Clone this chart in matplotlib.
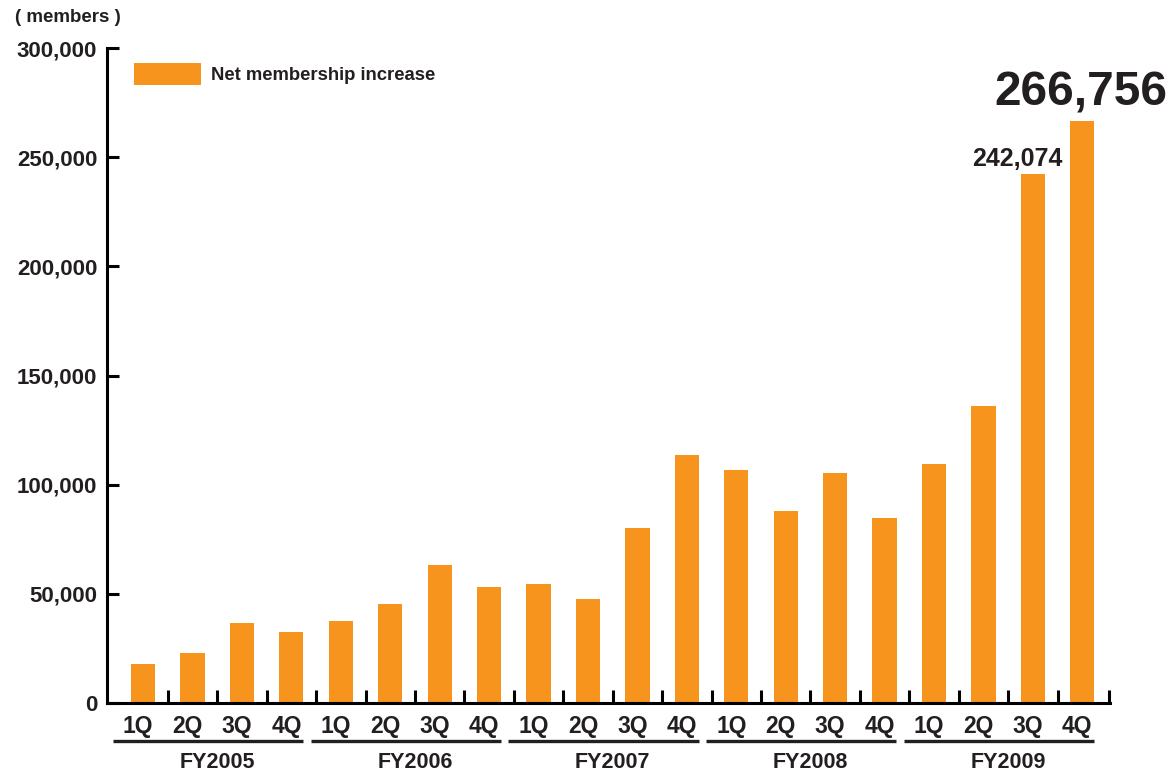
import matplotlib
matplotlib.use("Agg")
import matplotlib.pyplot as plt
import numpy as np

# data
years = ["FY2005", "FY2006", "FY2007", "FY2008", "FY2009"]
quarters = ["1Q", "2Q", "3Q", "4Q"]
net_increase = [
    17900, 22900, 36800, 32500,      # FY2005
    37600, 45500, 63200, 53300,      # FY2006
    54500, 47600, 80100, 113600,     # FY2007
    106700, 87900, 105300, 84700,    # FY2008
    109500, 136000, 242074, 266756,  # FY2009
]
y_ticks = [0, 50000, 100000, 150000, 200000, 250000, 300000]
y_tick_labels = ["0", "50,000", "100,000", "150,000", "200,000", "250,000", "300,000"]

ORANGE = "#F7941D"
DARK = "#231F20"
plt.rcParams["font.family"] = ["Liberation Sans", "DejaVu Sans"]
plt.rcParams["font.weight"] = "bold"

fig = plt.figure(figsize=(11.71, 7.71), dpi=100)
ax = fig.add_axes([107 / 1171, 1 - 703 / 771, (1110 - 107) / 1171, (703 - 48) / 771])

x = np.arange(len(net_increase))
ax.bar(x, net_increase, width=0.49, color=ORANGE, label="Net membership increase", zorder=2)

x_left, x_right = -0.73, 19.56
ax.set_xlim(x_left, x_right)
ax.set_ylim(0, 300000)

for side in ["top", "right"]:
    ax.spines[side].set_visible(False)
for side in ["left", "bottom"]:
    ax.spines[side].set_linewidth(2.2)
    ax.spines[side].set_color("black")

ax.set_yticks(y_ticks)
ax.set_yticklabels(y_tick_labels, fontsize=16, fontweight="bold", color=DARK)
ax.tick_params(axis="y", direction="in", length=8.5, width=2.2, pad=7)

bounds = list(np.arange(len(net_increase) - 1) + 0.5) + [x_right - 0.02]
ax.set_xticks(bounds)
ax.set_xticklabels([""] * len(bounds))
ax.tick_params(axis="x", direction="in", length=9.5, width=2.2)

trans = ax.get_xaxis_transform()
for i, v in enumerate(x):
    ax.text(v - 0.1, -0.036, quarters[i % 4], transform=trans, ha="center", va="center",
            fontsize=16.5, fontweight="bold", color=DARK)

for g, yr in enumerate(years):
    start, end = g * 4, g * 4 + 3
    ax.plot([start - 0.61, end + 0.24], [-0.058, -0.058], transform=trans, color=DARK,
            lw=2.4, clip_on=False, solid_capstyle="butt")
    ax.text((start + end) / 2, -0.091, yr, transform=trans, ha="center", va="center",
            fontsize=15.5, fontweight="bold", color=DARK)

# value labels on the last two bars
ax.annotate(f"{net_increase[18]:,}", (x[18], net_increase[18]), xytext=(-11, 6),
            textcoords="offset points", ha="center", va="baseline", fontsize=18,
            fontweight="bold", color=DARK)
ax.annotate(f"{net_increase[19]:,}", (x[19], net_increase[19]), xytext=(-1, 11),
            textcoords="offset points", ha="center", va="baseline", fontsize=34.5,
            fontweight="bold", color=DARK)

fig.text(15 / 1171, 1 - 18 / 771, "( members )", ha="left", va="center",
         fontsize=13.5, fontweight="bold", color=DARK)

ax.legend(loc="upper left", bbox_to_anchor=(134 / 1171, 1 - 63 / 771),
          bbox_transform=fig.transFigure, frameon=False, borderpad=0, borderaxespad=0,
          handlelength=3.6, handleheight=1.45, handletextpad=0.55,
          prop={"size": 13.3, "weight": "bold"}, labelcolor=DARK)

fig.savefig("out.png", dpi=100)
